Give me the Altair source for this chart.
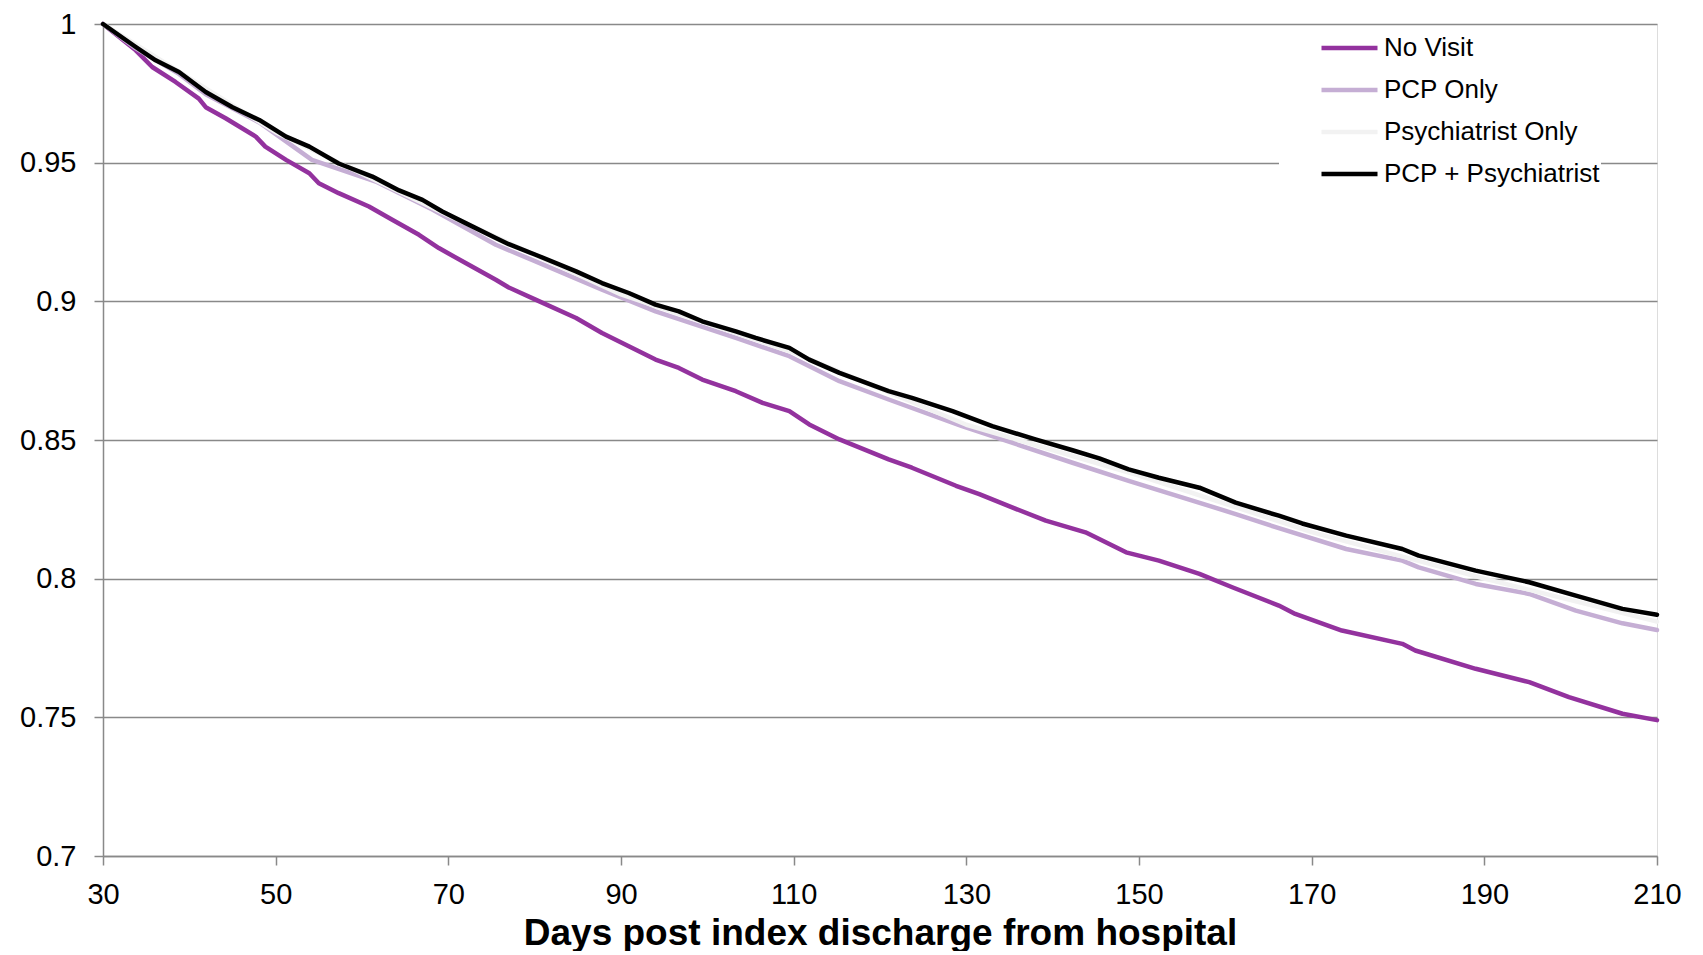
import altair as alt
import pandas as pd

# ---- data ----
series_names = ["No Visit", "PCP Only", "Psychiatrist Only", "PCP + Psychiatrist"]
series_colors = ["#93329E", "#C5AED4", "#F2F2F2", "#000000"]

no_visit_days = [30, 33.8, 35.7, 38.4, 41.1, 41.9, 44.2, 47.7, 48.8, 51.2, 53.9, 55.0, 57.3, 60.8,
                 63.5, 66.6, 68.9, 72.0, 75.5, 77.0, 80.1, 84.8, 87.8, 90.9, 94.0, 96.7, 99.4,
                 103.3, 106.4, 109.5, 111.8, 115.3, 121.0, 123.7, 128.8, 131.5, 135.3, 139.2,
                 143.8, 148.5, 152.3, 157.0, 160.8, 166.2, 168.1, 173.5, 180.5, 182.0, 189.0,
                 195.2, 199.8, 206.0, 210]
no_visit_vals = [1.0, 0.9905, 0.9845, 0.9791, 0.9731, 0.970, 0.966, 0.9594, 0.9558, 0.951, 0.9462,
                 0.9426, 0.939, 0.9342, 0.9294, 0.924, 0.9192, 0.9138, 0.9078, 0.905, 0.9006,
                 0.894, 0.8886, 0.8838, 0.879, 0.876, 0.8718, 0.8676, 0.8634, 0.8604, 0.8556,
                 0.8502, 0.843, 0.840, 0.8335, 0.8305, 0.8257, 0.8209, 0.8167, 0.8095, 0.8065,
                 0.8017, 0.7969, 0.7903, 0.7873, 0.7813, 0.7765, 0.7741, 0.7675, 0.7627, 0.7573,
                 0.7513, 0.749]

pcp_days = [30, 33.8, 38.8, 41.9, 48.1, 54.2, 61.6, 68.2, 75.5, 80.1, 87.8, 94.0, 103.3, 109.5,
            115.3, 121.0, 129.5, 142.3, 148.8, 161.2, 166.2, 174.0, 180.5, 182.4, 189.0, 195.2,
            200.6, 206.0, 210]
pcp_vals = [1.0, 0.9912, 0.9820, 0.9747, 0.9645, 0.951, 0.9432, 0.933, 0.9204, 0.9144, 0.9042,
            0.8964, 0.8868, 0.8802, 0.8712, 0.8646, 0.855, 0.8418, 0.8353, 0.8233, 0.8182,
            0.8107, 0.8065, 0.8041, 0.7981, 0.7945, 0.7885, 0.7839, 0.7815]

psych_days = [30, 50, 70, 90, 110, 130, 150, 170, 190, 210]
psych_vals = [1.0, 0.961, 0.931, 0.9025, 0.8815, 0.8555, 0.8372, 0.8168, 0.800, 0.7845]

both_days = [30, 33.8, 36.1, 38.8, 41.9, 45.0, 48.1, 51.2, 53.9, 57.3, 61.2, 64.3, 67.0, 69.3,
             72.0, 75.5, 77.0, 80.1, 84.8, 87.8, 90.9, 94.0, 96.7, 99.4, 103.3, 105.6, 109.5,
             111.8, 115.3, 121.0, 123.7, 128.4, 133.0, 138.0, 142.3, 145.4, 148.8, 152.3,
             157.0, 161.2, 166.2, 168.9, 174.0, 180.5, 182.4, 189.0, 195.2, 200.6, 206.0, 210]
both_vals = [1.0, 0.9917, 0.9869, 0.9827, 0.9755, 0.970, 0.9654, 0.9594, 0.9558, 0.9497, 0.945,
             0.940, 0.9366, 0.9324, 0.9282, 0.9228, 0.9206, 0.9168, 0.9108, 0.9066, 0.903,
             0.8988, 0.8964, 0.8928, 0.8892, 0.8868, 0.8832, 0.879, 0.8742, 0.8676, 0.8652,
             0.8604, 0.855, 0.8502, 0.8463, 0.8434, 0.8394, 0.8364, 0.8328, 0.8274, 0.8227,
             0.8199, 0.8155, 0.8107, 0.8083, 0.8029, 0.7987, 0.7939, 0.7891, 0.787]

x_ticks = [30, 50, 70, 90, 110, 130, 150, 170, 190, 210]
y_ticks = [0.7, 0.75, 0.8, 0.85, 0.9, 0.95, 1.0]
x_title = "Days post index discharge from hospital"

frames = []
for name, d, v in [(series_names[0], no_visit_days, no_visit_vals),
                   (series_names[1], pcp_days, pcp_vals),
                   (series_names[2], psych_days, psych_vals),
                   (series_names[3], both_days, both_vals)]:
    frames.append(pd.DataFrame({"day": d, "value": v, "series": name}))
df = pd.concat(frames, ignore_index=True)

FONT = "Liberation Sans"
GRID = "#898989"

color_scale = alt.Scale(domain=series_names, range=series_colors)

base = alt.Chart(df)

layers = []
for i, name in enumerate(series_names):
    enc = dict(
        x=alt.X("day:Q",
                scale=alt.Scale(domain=[30, 210], nice=False, zero=False),
                axis=alt.Axis(values=x_ticks, title=x_title, grid=False, labelFlush=False,
                              labelFontSize=29, labelFont=FONT, labelColor="#000000",
                              labelPadding=15, tickSize=9, tickColor=GRID, tickWidth=1.5,
                              domainColor=GRID, domainWidth=1.5,
                              titleFont=FONT, titleFontSize=37, titleFontWeight="bold",
                              titleColor="#000000", titlePadding=6)),
        y=alt.Y("value:Q",
                scale=alt.Scale(domain=[0.7, 1.0], nice=False, zero=False),
                axis=alt.Axis(values=y_ticks, format="~g", title=None, grid=True,
                              labelFlush=False,
                              gridColor=GRID, gridWidth=1.5,
                              labelFontSize=29, labelFont=FONT, labelColor="#000000",
                              labelPadding=18, tickSize=9, tickColor=GRID, tickWidth=1.5,
                              domainColor=GRID, domainWidth=1.5)),
        color=alt.Color("series:N", scale=color_scale, sort=series_names,
                        legend=alt.Legend(title=None, orient="none", legendX=1176, legendY=3,
                                          symbolType="stroke", symbolSize=3136,
                                          symbolOffset=40,
                                          symbolStrokeWidth=4.5, clipHeight=42, rowPadding=0,
                                          labelFont=FONT, labelFontSize=26, labelColor="#000000",
                                          labelOffset=4, fillColor="#FFFFFF", padding=0,
                                          labelLimit=400)),
    )
    layers.append(
        base.transform_filter(alt.datum.series == name)
        .mark_line(strokeWidth=4.5, strokeCap="round", strokeJoin="round")
        .encode(**enc)
    )

chart = alt.layer(*layers).properties(
    width=1554, height=832,
    padding={"left": 11, "top": 2, "right": 5, "bottom": 0},
).configure_view(stroke=None).configure(background="#FFFFFF")

chart.save("out.html", embed_options={"renderer": "svg", "actions": False})
